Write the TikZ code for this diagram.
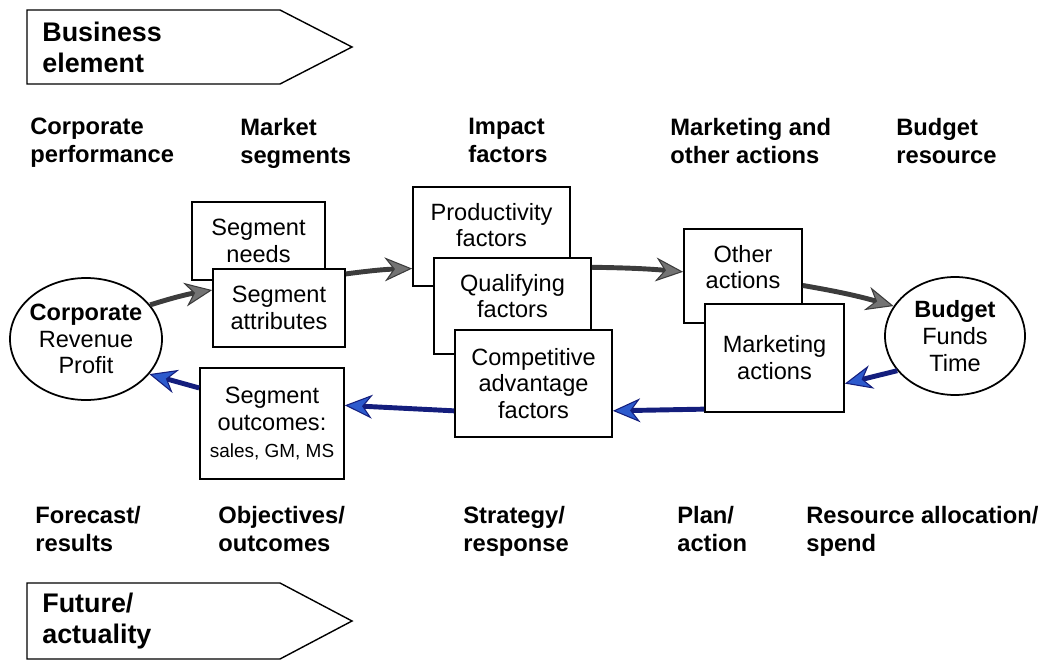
\documentclass[tikz,border=0pt]{standalone}
\usepackage{fontspec}
\setmainfont{Liberation Sans}
\usetikzlibrary{arrows.meta, positioning, calc, shapes.geometric}
\definecolor{flowgray}{RGB}{60, 60, 60}
\definecolor{tipgray}{RGB}{115, 115, 115}
\definecolor{flowblue}{RGB}{20, 30, 125}
\definecolor{tipblue}{RGB}{45, 90, 205}
\newcommand{\hdrfont}{\fontsize{13.5}{15.9}\selectfont\bfseries}
\newcommand{\boxfont}{\fontsize{13.4}{15.3}\selectfont}
\newcommand{\tagfont}{\fontsize{15.3}{17.6}\selectfont\bfseries}
\newcommand{\smallfont}{\fontsize{10.8}{13}\selectfont}
\tikzset{
  hdr/.style={font=\hdrfont, align=left, anchor=north west, inner sep=0pt},
  tag/.style={font=\tagfont, align=left, anchor=west, inner sep=0pt},
  factbox/.style={draw, fill=white, line width=1pt, font=\boxfont, align=center},
  facttext/.style={font=\boxfont, align=center, inner sep=0pt},
  pool/.style={draw, ellipse, fill=white, line width=1pt, inner sep=0pt},
  graypath/.style={line width=2.8pt, draw=flowgray, -{Stealth[length=0.55cm, width=0.48cm, inset=0.18cm, fill=tipgray, line width=0.6pt]}},
  bluepath/.style={line width=2.8pt, draw=flowblue, -{Stealth[length=0.55cm, width=0.48cm, inset=0.18cm, fill=tipblue, line width=0.6pt]}}
}
\begin{document}
\begin{tikzpicture}
  \useasboundingbox (0,0) rectangle (20.96,13.24);

  % Tag arrows
  \draw[line width=0.8pt] (0.54,13.04) -- (5.6,13.04) -- (7.04,12.3) -- (5.6,11.56) -- (0.54,11.56) -- cycle;
  \node[tag] (tbiz) at (0.84,12.3) {Business\\element};
  \draw[line width=0.8pt] (0.54,1.58) -- (5.6,1.58) -- (7.04,0.82) -- (5.6,0.06) -- (0.54,0.06) -- cycle;
  \node[tag] (tfut) at (0.84,0.82) {Future/\\actuality};

  % Column headings
  \node[hdr] (hcorp) at (0.6,10.88) {Corporate\\performance};
  \node[hdr] (hseg) at (4.8,10.88) {Market\\segments};
  \node[hdr] (himp) at (9.36,10.88) {Impact\\factors};
  \node[hdr] (hact) at (13.4,10.88) {Marketing and\\other actions};
  \node[hdr] (hbud) at (17.92,10.88) {Budget\\resource};

  \node[hdr] (fcorp) at (0.7,3.12) {Forecast/\\results};
  \node[hdr] (fseg) at (4.36,3.12) {Objectives/\\outcomes};
  \node[hdr] (fimp) at (9.26,3.12) {Strategy/\\response};
  \node[hdr] (fact) at (13.54,3.12) {Plan/\\action};
  \node[hdr] (fbud) at (16.12,3.12) {Resource allocation/\\spend};

  % Ends of the loop
  \node[pool, minimum width=3.04cm, minimum height=2.44cm] (corp) at (1.72,6.46) {};
  \node[facttext] at (corp) {\textbf{Corporate}\\Revenue\\Profit};
  \node[pool, minimum width=2.8cm, minimum height=2.36cm] (budget) at (19.1,6.52) {};
  \node[facttext] at (budget) {\textbf{Budget}\\Funds\\Time};

  % Market segments
  \node[factbox, minimum width=2.66cm, minimum height=1.56cm] (needs) at (5.17,8.42) {Segment\\needs};
  \node[factbox, minimum width=2.64cm, minimum height=1.56cm] (attr) at (5.58,7.08) {Segment\\attributes};
  \node[factbox, minimum width=2.88cm, minimum height=2.22cm] (outc) at (5.44,4.77) {Segment\\outcomes:\\{\smallfont sales, GM, MS}};

  % Impact factors
  \node[factbox, minimum width=3.14cm, minimum height=1.98cm] (prod) at (9.83,8.51) {};
  \node[facttext, below=0.33cm of prod.north] {Productivity\\factors};
  \node[factbox, minimum width=3.14cm, minimum height=1.92cm] (qual) at (10.25,7.12) {};
  \node[facttext, below=0.33cm of qual.north] {Qualifying\\factors};
  \node[factbox, minimum width=3.14cm, minimum height=2.14cm] (comp) at (10.67,5.57) {Competitive\\advantage\\factors};

  % Actions
  \node[factbox, minimum width=2.36cm, minimum height=1.88cm] (other) at (14.86,7.72) {};
  \node[facttext, below=0.33cm of other.north] {Other\\actions};
  \node[factbox, minimum width=2.78cm, minimum height=2.16cm] (mkt) at (15.49,6.08) {Marketing\\actions};

  % Upper flow
  \draw[graypath] (corp.28) to[bend left=4] (attr.165);
  \draw[graypath] (attr.27) to[bend left=3] (prod.202);
  \draw[graypath] (qual.26) to[bend left=2] (other.176);
  \draw[graypath] (other.-9) to[bend left=3] (budget.154);

  % Lower flow
  \draw[bluepath] (budget.211) -- (mkt.-20);
  \draw[bluepath] (mkt.216) -- (comp.-19);
  \draw[bluepath] (comp.199) -- (outc.14);
  \draw[bluepath] (outc.154) -- (corp.-29);
\end{tikzpicture}
\end{document}
